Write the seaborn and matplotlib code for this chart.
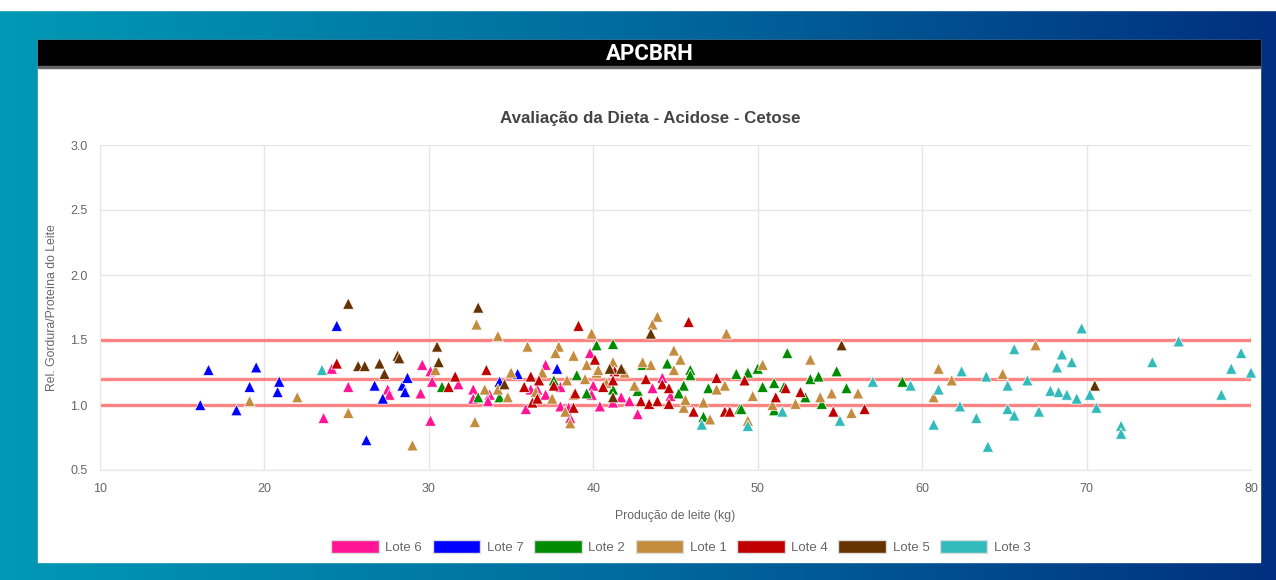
import numpy as np
import pandas as pd
import matplotlib.pyplot as plt
import seaborn as sns
from matplotlib.patches import Rectangle, Patch
from matplotlib.colors import LinearSegmentedColormap

sns.set_style('white')
plt.rcParams['font.family'] = ['Liberation Sans', 'DejaVu Sans']

# --- data (x = milk kg, y = fat/protein ratio) ---
lote6_x = [24.1, 25.1, 23.6, 27.5, 27.6, 29.6, 30.1, 30.2, 29.5, 30.1, 31.8, 32.7, 32.7, 33.7, 33.6,
           35.9, 37.1, 37.1, 36.2, 36.6, 38.0, 38.5, 38.6, 39.8, 40.0, 39.9, 38.0, 40.4, 41.2, 41.7,
           42.2, 42.7, 43.6, 44.2, 44.7]
lote6_y = [1.28, 1.14, 0.90, 1.12, 1.08, 1.31, 1.26, 1.18, 1.09, 0.88, 1.16, 1.12, 1.05, 1.08, 1.03,
           0.97, 1.31, 1.08, 1.12, 1.12, 0.99, 0.98, 0.90, 1.40, 1.15, 1.08, 1.14, 0.99, 1.02, 1.06,
           1.03, 0.93, 1.13, 1.21, 1.07]

lote7_x = [16.1, 16.6, 18.3, 19.1, 19.5, 20.8, 20.9, 24.4, 26.2, 26.7, 27.2, 28.4, 28.7, 28.55,
           34.3, 35.4, 37.8]
lote7_y = [1.00, 1.27, 0.96, 1.14, 1.29, 1.10, 1.18, 1.61, 0.73, 1.15, 1.05, 1.15, 1.21, 1.10,
           1.18, 1.24, 1.28]

lote2_x = [30.8, 33.0, 34.3, 37.6, 39.0, 39.6, 40.2, 41.2, 43.0, 44.5, 45.9, 45.9, 45.5, 45.2,
           42.7, 41.2, 47.0, 48.7, 49.4, 48.9, 46.7, 50.0, 50.3, 51.0, 51.8, 51.6, 53.2, 53.7,
           54.8, 52.9, 53.9, 51.0, 55.4, 49.0, 58.8]
lote2_y = [1.14, 1.06, 1.06, 1.19, 1.23, 1.09, 1.46, 1.47, 1.31, 1.32, 1.27, 1.23, 1.15, 1.09,
           1.11, 1.12, 1.13, 1.24, 1.25, 0.97, 0.91, 1.28, 1.14, 1.17, 1.40, 1.14, 1.20, 1.22,
           1.26, 1.06, 1.01, 0.96, 1.13, 0.97, 1.18]

lote1_x = [19.1, 22.0, 25.1, 29.0, 30.4, 32.9, 34.2, 36.0, 32.8, 35.0, 37.9, 37.7, 38.8, 39.9,
           39.6, 40.2, 38.6, 38.3, 38.8, 38.4, 36.9, 34.2, 34.8, 33.4, 43.9, 43.6, 48.1, 44.9,
           45.3, 53.2, 50.3, 53.8, 54.5, 56.1, 55.7, 49.4, 47.1, 45.5, 46.7, 48.0, 49.7, 52.3,
           43.5, 43.0, 41.2, 40.3, 41.9, 45.6, 44.9, 50.9, 61.0, 60.7, 61.8, 64.9, 66.9,
           36.5, 37.5, 39.5, 40.8, 42.5, 47.5]
lote1_y = [1.03, 1.06, 0.94, 0.69, 1.27, 1.62, 1.53, 1.45, 0.87, 1.25, 1.45, 1.40, 1.38, 1.55,
           1.31, 1.25, 0.86, 0.95, 1.08, 1.19, 1.25, 1.12, 1.06, 1.12, 1.68, 1.62, 1.55, 1.42,
           1.35, 1.35, 1.31, 1.06, 1.09, 1.09, 0.94, 0.88, 0.89, 0.98, 1.02, 1.15, 1.07, 1.01,
           1.31, 1.33, 1.33, 1.27, 1.25, 1.04, 1.27, 1.00, 1.28, 1.06, 1.19, 1.24, 1.46,
           1.10, 1.05, 1.20, 1.17, 1.15, 1.12]

lote4_x = [24.4, 31.2, 31.6, 33.5, 39.1, 40.1, 36.2, 35.8, 36.7, 36.3, 36.6, 37.6, 38.9, 38.8,
           45.8, 41.3, 43.2, 44.2, 44.6, 42.9, 43.4, 43.9, 44.6, 47.5, 46.1, 48.0, 48.3, 49.2,
           41.2, 40.6, 51.7, 51.1, 52.6, 54.6, 56.5]
lote4_y = [1.32, 1.14, 1.22, 1.27, 1.61, 1.35, 1.22, 1.14, 1.19, 1.02, 1.05, 1.15, 1.09, 0.98,
           1.64, 1.26, 1.20, 1.16, 1.13, 1.03, 1.01, 1.03, 1.01, 1.21, 0.95, 0.95, 0.95, 1.19,
           1.19, 1.14, 1.13, 1.06, 1.10, 0.95, 0.97]

lote5_x = [25.1, 33.0, 30.5, 30.6, 25.7, 26.1, 27.0, 27.3, 28.1, 28.2, 43.5, 55.1, 34.6, 41.0,
           41.7, 41.2, 70.5]
lote5_y = [1.78, 1.75, 1.45, 1.33, 1.30, 1.30, 1.32, 1.24, 1.38, 1.36, 1.55, 1.46, 1.16, 1.28,
           1.28, 1.06, 1.15]

lote3_x = [23.5, 46.6, 49.4, 51.5, 55.0, 57.0, 59.3, 61.0, 60.7, 62.4, 62.3, 63.3, 63.9, 64.0,
           65.2, 65.2, 65.6, 65.6, 66.4, 67.1, 67.8, 68.3, 68.8, 69.4, 68.2, 68.5, 69.1, 69.7,
           70.2, 70.6, 72.1, 72.1, 74.0, 75.6, 78.2, 78.8, 79.4, 80.0]
lote3_y = [1.27, 0.85, 0.84, 0.95, 0.88, 1.18, 1.15, 1.12, 0.85, 1.26, 0.99, 0.90, 1.22, 0.68,
           1.15, 0.97, 0.92, 1.43, 1.19, 0.95, 1.11, 1.10, 1.08, 1.05, 1.29, 1.39, 1.33, 1.59,
           1.08, 0.98, 0.84, 0.78, 1.33, 1.49, 1.08, 1.28, 1.40, 1.25]

lote_names = ['Lote 6', 'Lote 7', 'Lote 2', 'Lote 1', 'Lote 4', 'Lote 5', 'Lote 3']
lote_colors = ['#ff1493', '#0000ff', '#008c00', '#c48c3e', '#c00000', '#663300', '#33bbbb']
limits = [1.0, 1.2, 1.5]
x_ticks = [10, 20, 30, 40, 50, 60, 70, 80]
y_ticks = [0.5, 1.0, 1.5, 2.0, 2.5, 3.0]

series = [(lote6_x, lote6_y), (lote7_x, lote7_y), (lote2_x, lote2_y), (lote1_x, lote1_y),
          (lote4_x, lote4_y), (lote5_x, lote5_y), (lote3_x, lote3_y)]
frames = []
for name, (xs, ys) in zip(lote_names, series):
    frames.append(pd.DataFrame({'prod': xs, 'rel': ys, 'lote': name}))
df = pd.concat(frames, ignore_index=True)
palette = dict(zip(lote_names, lote_colors))

W, H = 1276, 580
fig = plt.figure(figsize=(W / 100, H / 100), dpi=100)

# background: gradient frame, white card, black header
bg = fig.add_axes([0, 0, 1, 1], zorder=-10)
bg.set_xlim(0, W)
bg.set_ylim(H, 0)
bg.axis('off')
cmap = LinearSegmentedColormap.from_list('bg', ['#0099b5', '#006a9e', '#00307f'])
grad = np.linspace(0, 1, 256).reshape(1, -1)
bg.imshow(grad, cmap=cmap, aspect='auto', extent=[0, W, H, 0])
bg.add_patch(Rectangle((0, 0), W, 10, color='white'))
bg.add_patch(Rectangle((38, 40), 1222, 522, color='white'))
bg.add_patch(Rectangle((38, 40), 1222, 26, color='black'))
bg.add_patch(Rectangle((38, 66), 1222, 2, color='#666666'))
bg.text(650, 54, 'APCBRH', color='white', ha='center', va='center', fontsize=16,
        fontweight='bold', family=['Roboto', 'DejaVu Sans'])

fig.text(650 / W, 1 - 118 / H, 'Avaliação da Dieta - Acidose - Cetose', ha='center', va='center',
         fontsize=12.2, fontweight='bold', color='#444444')

ax = fig.add_axes([100 / W, 1 - 470 / H, 1151 / W, 325 / H])
ax.set_facecolor('white')

for v in limits:
    ax.axhline(v, color='#ff7070', lw=2.4, alpha=0.85, zorder=1)

sns.scatterplot(data=df, x='prod', y='rel', hue='lote', palette=palette, marker='^', s=65,
                edgecolor='white', linewidth=0.5, legend=False, ax=ax, zorder=3, clip_on=False)

ax.set_xlim(10, 80)
ax.set_ylim(0.5, 3.0)
ax.set_xticks(x_ticks)
ax.set_yticks(y_ticks)
ax.set_yticklabels([f'{t:.1f}' for t in y_ticks])
ax.grid(True, color='#e6e6e6', lw=1)
for s in ['top', 'right']:
    ax.spines[s].set_visible(False)
for s in ['left', 'bottom']:
    ax.spines[s].set_color('#e6e6e6')
ax.tick_params(length=7, color='#e6e6e6', labelcolor='#666666', labelsize=9, pad=2)
ax.set_xlabel('Produção de leite (kg)', color='#666666', fontsize=8.8, labelpad=11)
ax.set_ylabel('Rel. Gordura/Proteína do Leite', color='#666666', fontsize=8.8, labelpad=9)

handles = [Patch(facecolor=c, edgecolor='#dddddd', label=n) for n, c in zip(lote_names, lote_colors)]
leg = fig.legend(handles=handles, loc='center', bbox_to_anchor=(681 / W, 1 - 547 / H), ncol=7,
                 frameon=False, handlelength=3.6, handleheight=1.1, columnspacing=0.8,
                 handletextpad=0.5, fontsize=9.5)
for t in leg.get_texts():
    t.set_color('#666666')

fig.savefig('out.png', dpi=100)
